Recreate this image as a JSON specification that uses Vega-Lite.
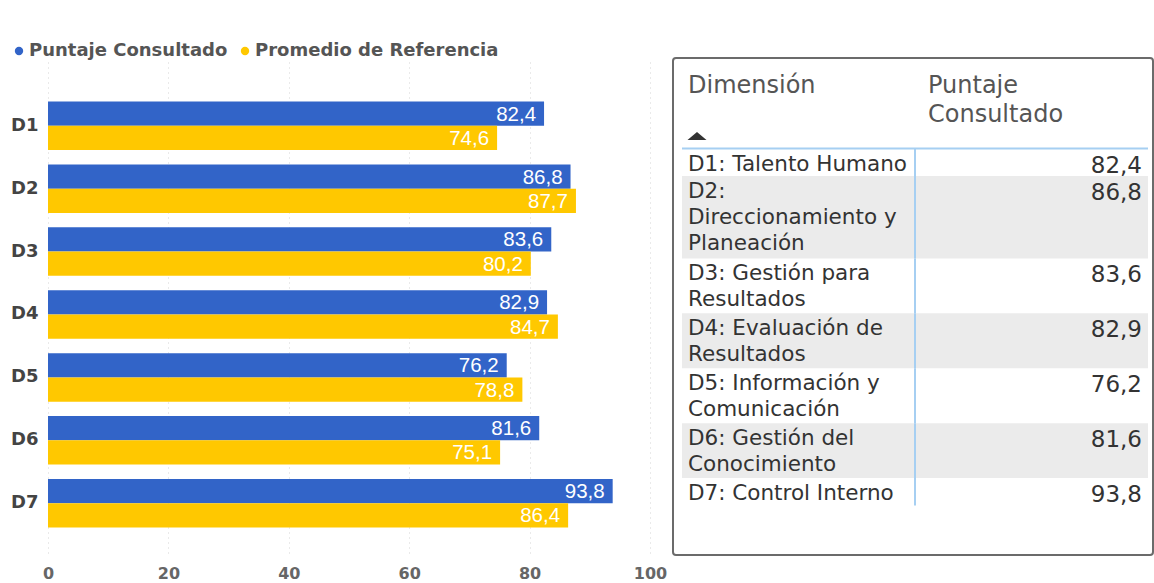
{
  "$schema": "https://vega.github.io/schema/vega-lite/v6.json",
  "padding": {"left": 10, "top": 42, "right": 0, "bottom": 0},
  "autosize": {"type": "pad"},
  "background": "white",
  "config": {
    "font": "DejaVu Sans",
    "view": {"stroke": null},
    "locale": {"number": {"decimal": ",", "thousands": ".", "grouping": [3], "currency": ["", " €"]}}
  },
  "datasets": {
    "dims": [
      {"dim": "D1", "label": "D1: Talento Humano", "Puntaje Consultado": 82.4, "Promedio de Referencia": 74.6},
      {"dim": "D2", "label": "D2:\nDireccionamiento y\nPlaneación", "Puntaje Consultado": 86.8, "Promedio de Referencia": 87.7},
      {"dim": "D3", "label": "D3: Gestión para\nResultados", "Puntaje Consultado": 83.6, "Promedio de Referencia": 80.2},
      {"dim": "D4", "label": "D4: Evaluación de\nResultados", "Puntaje Consultado": 82.9, "Promedio de Referencia": 84.7},
      {"dim": "D5", "label": "D5: Información y\nComunicación", "Puntaje Consultado": 76.2, "Promedio de Referencia": 78.8},
      {"dim": "D6", "label": "D6: Gestión del\nConocimiento", "Puntaje Consultado": 81.6, "Promedio de Referencia": 75.1},
      {"dim": "D7", "label": "D7: Control Interno", "Puntaje Consultado": 93.8, "Promedio de Referencia": 86.4}
    ],
    "headers": [
      {"col": "Dimensión", "header": "Dimensión"},
      {"col": "Puntaje Consultado", "header": "Puntaje\nConsultado"}
    ]
  },
  "bounds": "flush",
  "spacing": 23,
  "resolve": {"scale": {"color": "independent"}, "legend": {"color": "independent"}},
  "hconcat": [
    {
      "width": 602,
      "height": 495,
      "data": {"name": "dims"},
      "transform": [{"fold": ["Puntaje Consultado", "Promedio de Referencia"], "as": ["serie", "valor"]}],
      "encoding": {
        "y": {
          "field": "dim", "type": "nominal", "title": null,
          "scale": {"paddingInner": 0.229, "paddingOuter": 0.549, "align": 0.63},
          "axis": {"domain": false, "ticks": false, "labelPadding": 10, "labelFontSize": 18, "labelFontWeight": "bold", "labelColor": "#444444", "labelFont": "DejaVu Sans", "grid": false}
        },
        "yOffset": {"field": "serie", "type": "nominal", "scale": {"domain": ["Puntaje Consultado", "Promedio de Referencia"]}},
        "x": {
          "field": "valor", "type": "quantitative", "title": null,
          "scale": {"domain": [0, 100], "nice": false},
          "axis": {"values": [0, 20, 40, 60, 80, 100], "format": "d", "domain": false, "ticks": false, "tickSize": 0, "labelPadding": 12, "labelFlush": false, "labelFontSize": 16, "labelFontWeight": "bold", "labelColor": "#666666", "labelFont": "DejaVu Sans", "grid": true, "gridColor": "#d4d4d4", "gridDash": [1, 4], "gridWidth": 1}
        }
      },
      "layer": [
        {
          "mark": {"type": "bar"},
          "encoding": {
            "color": {
              "field": "serie", "type": "nominal",
              "scale": {"domain": ["Puntaje Consultado", "Promedio de Referencia"], "range": ["#3264C8", "#FFC800"]},
              "legend": {"title": null, "orient": "none", "legendX": -38, "legendY": -16, "direction": "horizontal", "symbolType": "circle", "symbolSize": 70, "symbolStrokeWidth": 0, "labelFontSize": 18, "labelFontWeight": "bold", "labelColor": "#555555", "labelFont": "DejaVu Sans", "labelLimit": 400, "columnPadding": 8, "labelOffset": 1}
            }
          }
        },
        {
          "mark": {"type": "text", "align": "right", "baseline": "middle", "dx": -8, "dy": 1, "font": "Liberation Sans", "fontSize": 20.5, "color": "white"},
          "encoding": {"text": {"field": "valor", "type": "quantitative", "format": ".1f"}}
        }
      ]
    },
    {
      "width": 480,
      "height": 497,
      "view": {"stroke": "#6b6b6b", "strokeWidth": 2, "cornerRadius": 3},
      "layer": [
        {
          "data": {"name": "dims"},
          "transform": [
            {"calculate": "length(split(datum.label, '\\n'))", "as": "nl"},
            {"window": [{"op": "sum", "field": "nl", "as": "fin"}, {"op": "row_number", "as": "idx"}], "sort": [{"field": "dim"}], "frame": [null, 0]},
            {"calculate": "datum.fin - datum.nl", "as": "ini"}
          ],
          "layer": [
            {
              "transform": [{"filter": "datum.idx % 2 == 0"}],
              "mark": {"type": "rect", "color": "#EBEBEB"},
              "encoding": {
                "y": {"field": "ini", "type": "quantitative", "scale": {"domain": [-3.3, 14.8], "reverse": true, "nice": false, "zero": false}, "axis": null},
                "y2": {"field": "fin"},
                "x": {"datum": "Dimensión", "type": "nominal", "bandPosition": 0, "scale": {"type": "band", "domain": ["Dimensión", "Puntaje Consultado"], "range": [9, 475], "paddingInner": 0, "paddingOuter": 0}, "axis": null},
                "x2": {"datum": "Puntaje Consultado", "bandPosition": 1}
              }
            },
            {
              "mark": {"type": "rule", "color": "#A6CFF2", "strokeWidth": 2},
              "encoding": {
                "x": {"datum": "Puntaje Consultado", "type": "nominal", "bandPosition": 0},
                "y": {"field": "ini", "type": "quantitative"},
                "y2": {"field": "fin"}
              }
            },
            {
              "mark": {"type": "text", "align": "left", "baseline": "top", "dx": 6, "dy": 5, "fontSize": 21.5, "lineHeight": 26, "lineBreak": "\n", "color": "#333333"},
              "encoding": {
                "x": {"datum": "Dimensión", "type": "nominal", "bandPosition": 0},
                "y": {"field": "ini", "type": "quantitative"},
                "text": {"field": "label", "type": "nominal"}
              }
            },
            {
              "mark": {"type": "text", "align": "right", "baseline": "top", "dx": -6, "dy": 6, "fontSize": 23, "color": "#333333"},
              "encoding": {
                "x": {"datum": "Puntaje Consultado", "type": "nominal", "bandPosition": 1},
                "y": {"field": "ini", "type": "quantitative"},
                "text": {"field": "Puntaje Consultado", "type": "quantitative", "format": ".1f"}
              }
            }
          ]
        },
        {
          "data": {"name": "headers"},
          "layer": [
            {
              "transform": [{"filter": "datum.col == 'Dimensión'"}],
              "mark": {"type": "rule", "color": "#A6CFF2", "strokeWidth": 2},
              "encoding": {
                "x": {"datum": "Dimensión", "type": "nominal", "bandPosition": 0},
                "x2": {"datum": "Puntaje Consultado", "bandPosition": 1},
                "y": {"datum": 0}
              }
            },
            {
              "transform": [{"filter": "datum.col == 'Dimensión'"}],
              "mark": {"type": "text", "align": "left", "baseline": "top", "dx": 6, "fontSize": 24, "lineHeight": 29, "lineBreak": "\n", "color": "#555555"},
              "encoding": {
                "x": {"field": "col", "type": "nominal", "bandPosition": 0},
                "y": {"datum": -2.72},
                "text": {"field": "header", "type": "nominal"}
              }
            },
            {
              "transform": [{"filter": "datum.col == 'Puntaje Consultado'"}],
              "mark": {"type": "text", "align": "left", "baseline": "top", "dx": 13, "fontSize": 24, "lineHeight": 29, "lineBreak": "\n", "color": "#555555"},
              "encoding": {
                "x": {"field": "col", "type": "nominal", "bandPosition": 0},
                "y": {"datum": -2.72},
                "text": {"field": "header", "type": "nominal"}
              }
            },
            {
              "transform": [{"filter": "datum.col == 'Dimensión'"}],
              "mark": {"type": "point", "shape": "M0.58,0.42L2.58,0.42L1.58,-0.42Z", "size": 361, "filled": true, "color": "#333333", "opacity": 1, "strokeWidth": 0},
              "encoding": {
                "x": {"field": "col", "type": "nominal", "bandPosition": 0},
                "y": {"datum": -0.46}
              }
            }
          ]
        }
      ]
    }
  ]
}
